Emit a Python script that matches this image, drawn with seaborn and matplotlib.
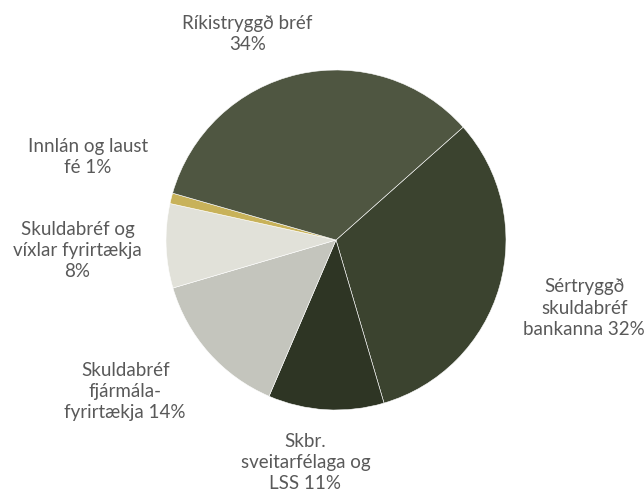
import numpy as np
import seaborn as sns
import matplotlib.pyplot as plt

# Safnasamsetning (hlutfall, %)
labels = ["Sértryggð\nskuldabréf\nbankanna 32%",
          "Skbr.\nsveitarfélaga og\nLSS 11%",
          "Skuldabréf\nfjármála-\nfyrirtækja 14%",
          "Skuldabréf og\nvíxlar fyrirtækja\n8%",
          "Innlán og laust\nfé 1%",
          "Ríkistryggð bréf\n34%"]
shares = [32, 11, 14, 8, 1, 34]
colors = ["#3b432f", "#2e3524", "#c4c5bd", "#e1e1d9", "#c8b25a", "#4f5641"]
# label positions, in pie-radius units
label_pos = [(1.46, -0.40), (-0.18, -1.31), (-1.24, -0.89),
             (-1.52, -0.06), (-1.46, 0.49), (-0.52, 1.21)]

sns.set_theme(style="white")
plt.rcParams['font.family'] = ['Lato', 'DejaVu Sans']

fig = plt.figure(figsize=(6.44, 4.94), dpi=100)
ax = fig.add_axes([0, 0, 1, 1])

ax.pie(shares, colors=sns.color_palette(colors), startangle=41.6,
       counterclock=False, radius=1.0,
       wedgeprops={'linewidth': 0.4, 'edgecolor': 'white'})

for lab, (x, y) in zip(labels, label_pos):
    ax.text(x, y, lab, ha='center', va='center', fontsize=13.5,
            color='#595959', linespacing=1.3)

R = 170.0
ax.set_xlim(-336 / R, (644 - 336) / R)
ax.set_ylim(-(494 - 240) / R, 240 / R)
ax.set_aspect('equal')
ax.axis('off')

fig.savefig("out.png", dpi=100)
